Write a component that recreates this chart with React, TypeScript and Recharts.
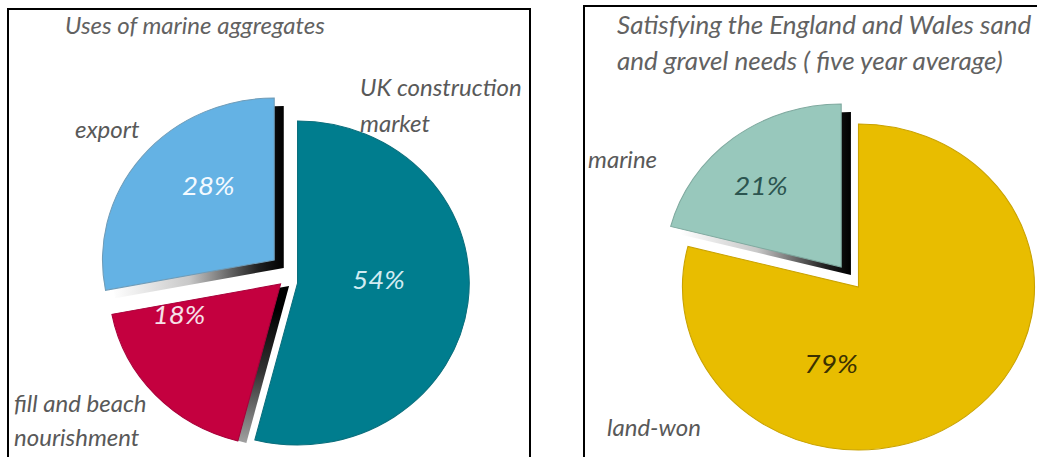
import { PieChart, Pie, Cell } from 'recharts'

// left panel: uses of marine aggregates (%)
const usesNames = ['UK construction market', 'fill and beach nourishment', 'export']
const usesValues = [54, 18, 28]

// right panel: England and Wales sand and gravel supply (%)
const supplyNames = ['land-won', 'marine']
const supplyValues = [79, 21]

const FONT = 'Lato, "Open Sans", sans-serif'
const RAD = Math.PI / 180

type Shadow = { dx: number; dy: number; vertical: boolean; stops: [number, string][] }
type SliceStyle = {
  color: string
  stroke: string
  text: string
  offset: [number, number]
  labelR: number
  nudge: [number, number]
  shadow?: Shadow
}

const sideShadow: [number, string][] = [[0, '#ffffff'], [0.45, '#c8c8c8'], [0.85, '#202020'], [1, '#000000']]
const dropShadow: [number, string][] = [[0.15, '#000000'], [0.55, '#333333'], [1, '#a0a0a0']]

const usesStyle: SliceStyle[] = [
  { color: '#007d8e', stroke: '#0b6f7d', text: '#d2ecf2', offset: [9, 9], labelR: 80, nudge: [-3, -14] },
  { color: '#c4003f', stroke: '#a8003a', text: '#f6e0e8', offset: [-7, 10], labelR: 100, nudge: [-23, -38],
    shadow: { dx: 8, dy: 2, vertical: true, stops: dropShadow } },
  { color: '#64b2e4', stroke: '#6f9cb8', text: '#f4faff', offset: [-13, -14], labelR: 95, nudge: [11, -14],
    shadow: { dx: 9, dy: 8, vertical: false, stops: sideShadow } },
]

const supplyStyle: SliceStyle[] = [
  { color: '#e8bd00', stroke: '#c9a200', text: '#3b3100', offset: [6, 9], labelR: 50, nudge: [-56, 36] },
  { color: '#98c8bc', stroke: '#7fa99f', text: '#2c5550', offset: [-10, -11], labelR: 110, nudge: [-7, 5],
    shadow: { dx: 9, dy: 8, vertical: false, stops: sideShadow } },
]

const textStyle = {
  position: 'absolute' as const,
  fontFamily: FONT,
  fontStyle: 'italic',
  fontSize: 24,
  lineHeight: 1,
  color: '#595959',
  whiteSpace: 'nowrap' as const,
}

interface PieProps {
  id: string
  names: string[]
  values: number[]
  styles: SliceStyle[]
  cx: number
  cy: number
  r: number
  width: number
  height: number
}

function ExplodedPie({ id, names, values, styles, cx, cy, r, width, height }: PieProps) {
  const data = names.map((name, i) => ({ name, value: values[i] }))

  const pct = (i: number) => (p: any) => {
    if (p.index !== i) return null
    const s = styles[i]
    const x = p.cx + s.labelR * Math.cos(-p.midAngle * RAD) + s.nudge[0]
    const y = p.cy + s.labelR * Math.sin(-p.midAngle * RAD) + s.nudge[1]
    return (
      <text x={x} y={y} fill={s.text} textAnchor="middle" dominantBaseline="central"
        fontFamily={FONT} fontStyle="italic" fontSize={26}>
        {`${p.value}%`}
      </text>
    )
  }

  return (
    <PieChart width={width} height={height} margin={{ top: 0, right: 0, bottom: 0, left: 0 }}>
      <defs>
        {styles.map((s, i) => s.shadow && (
          <linearGradient key={i} id={`${id}-sh${i}`} x1="0" y1="0" x2={s.shadow.vertical ? 0 : 1} y2={s.shadow.vertical ? 1 : 0}>
            {s.shadow.stops.map(([o, c], k) => <stop key={k} offset={o} stopColor={c} />)}
          </linearGradient>
        ))}
      </defs>
      {styles.map((s, i) => s.shadow && (
        <Pie key={`sh${i}`} data={data} dataKey="value" startAngle={90} endAngle={-270}
          cx={cx + s.offset[0] + s.shadow.dx} cy={cy + s.offset[1] + s.shadow.dy}
          outerRadius={r} stroke="none" label={false} labelLine={false} isAnimationActive={false}>
          {data.map((_, j) => <Cell key={j} fill={j === i ? `url(#${id}-sh${i})` : 'none'} stroke="none" />)}
        </Pie>
      ))}
      {styles.map((s, i) => (
        <Pie key={`sl${i}`} data={data} dataKey="value" startAngle={90} endAngle={-270}
          cx={cx + s.offset[0]} cy={cy + s.offset[1]}
          outerRadius={r} label={pct(i)} labelLine={false} isAnimationActive={false}>
          {data.map((_, j) => (
            <Cell key={j} fill={j === i ? s.color : 'none'} stroke={j === i ? s.stroke : 'none'} strokeWidth={1} />
          ))}
        </Pie>
      ))}
    </PieChart>
  )
}

export default function App() {
  return (
    <div style={{ position: 'absolute', left: 0, top: 0, width: 1037, height: 457, overflow: 'hidden', background: '#fff' }}>
      <div style={{ position: 'absolute', left: 7, top: 8, width: 524, height: 470, border: '2px solid #000', boxSizing: 'border-box' }} />
      <div style={{ position: 'absolute', left: 583, top: 5, width: 480, height: 470, border: '2px solid #000', boxSizing: 'border-box' }} />

      <div style={{ position: 'absolute', left: 0, top: 0, transform: 'scaleX(1.06)', transformOrigin: '288px 274px' }}>
        <ExplodedPie id="uses" names={usesNames} values={usesValues} styles={usesStyle}
          cx={288} cy={274} r={162} width={545} height={457} />
      </div>
      <div style={{ position: 'absolute', left: 560, top: 0, transform: 'scaleX(1.08)', transformOrigin: '292px 278px' }}>
        <ExplodedPie id="supply" names={supplyNames} values={supplyValues} styles={supplyStyle}
          cx={292} cy={278} r={163} width={477} height={457} />
      </div>

      <div style={{ ...textStyle, left: 65, top: 13, color: '#626262' }}>Uses of marine aggregates</div>
      <div style={{ ...textStyle, left: 75, top: 117 }}>export</div>
      <div style={{ ...textStyle, left: 360, top: 75 }}>UK construction</div>
      <div style={{ ...textStyle, left: 360, top: 111 }}>market</div>
      <div style={{ ...textStyle, left: 14, top: 391 }}>fill and beach</div>
      <div style={{ ...textStyle, left: 14, top: 425 }}>nourishment</div>

      <div style={{ ...textStyle, fontSize: 26, left: 617, top: 11, color: '#626262' }}>Satisfying the England and Wales sand</div>
      <div style={{ ...textStyle, fontSize: 26, left: 617, top: 47, color: '#626262' }}>and gravel needs ( five year average)</div>
      <div style={{ ...textStyle, left: 588, top: 147 }}>marine</div>
      <div style={{ ...textStyle, left: 607, top: 415 }}>land-won</div>
    </div>
  )
}
